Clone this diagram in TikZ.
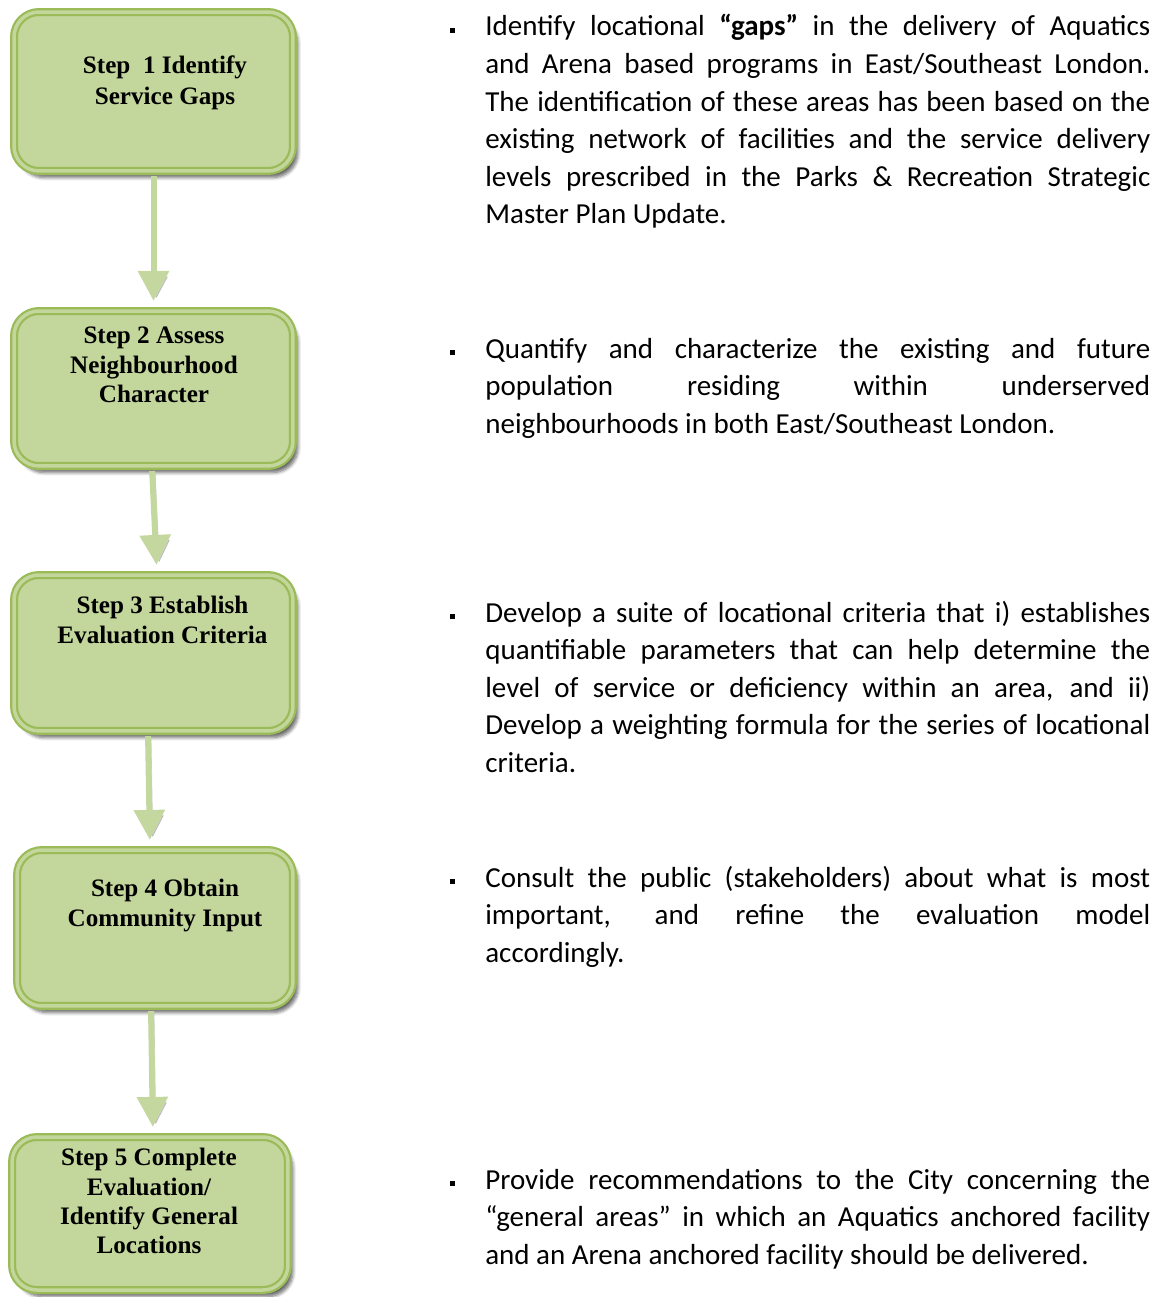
\documentclass[tikz,border=0pt]{standalone}
\usepackage{fontspec}
\setmainfont{Carlito}
\newfontfamily\boxfont{Liberation Serif}
\usetikzlibrary{positioning,arrows.meta,shadows.blur}
\definecolor{boxfill}{HTML}{C3D69B}
\definecolor{boxline}{HTML}{9BBB59}
\definecolor{flowgreen}{HTML}{C4D79E}
% small square bullet hung left of the paragraph
\newcommand{\sqbullet}{\llap{\rule[0.06cm]{0.1cm}{0.1cm}\hspace{0.6cm}}}

\begin{document}
\begin{tikzpicture}[x=0.02cm,y=-0.02cm,
      stepbox/.style={draw=boxline,line width=0.045cm,double=boxfill,double distance=0.07cm,fill=boxfill,rounded corners=0.5cm,minimum width=5.58cm,minimum height=3.12cm,
        blur shadow={shadow xshift=0.1cm,shadow yshift=-0.13cm,shadow blur steps=6,shadow opacity=60}},
      steptext/.style={align=center,inner sep=0pt,font=\boxfont\bfseries\fontsize{14.3}{16.7}\selectfont},
      flow/.style={draw=flowgreen,line width=0.12cm,-{Triangle[width=0.6cm,length=0.6cm]},shorten <=0.08cm,shorten >=0.18cm,
        preaction={draw=black,opacity=0.18,transform canvas={shift={(0.06cm,-0.06cm)}}}},
      para/.style={anchor=base west,inner sep=0pt,text width=13.3cm,align=justify,font=\fontsize{16.5}{21.4}\selectfont}]
    \useasboundingbox (0,0) rectangle (1158,1297);

    % the five steps
    \node[stepbox,minimum height=3.18cm] (s1) at (153.5,91.5) {};
    \node[stepbox,minimum height=3.1cm] (s2) at (153.5,388.5) {};
    \node[stepbox] (s3) at (153.5,653) {};
    \node[stepbox,minimum width=5.52cm] (s4) at (155,928) {};
    \node[stepbox,minimum width=5.52cm,minimum height=3.06cm] (s5) at (150,1213.5) {};

    \node[steptext,anchor=north] (t1) at (165,55) {Step\ \ 1 Identify\\[0.05cm]Service Gaps};
    \node[steptext,anchor=north] (t2) at (154,327) {Step 2 Assess\\Neighbourhood\\Character};
    \node[steptext,anchor=north] (t3) at (162.5,596) {Step 3 Establish\\Evaluation Criteria};
    \node[steptext,anchor=north] (t4) at (165,879) {Step 4 Obtain\\Community Input};
    \node[steptext,anchor=north] (t5) at (149,1148) {Step 5 Complete\\Evaluation/\\Identify General\\Locations};

    \draw[flow] (s1.south) -- (s2.north);
    \draw[flow] ([xshift=-0.03cm]s2.south) -- ([xshift=0.07cm]s3.north);
    \draw[flow] ([xshift=-0.11cm]s3.south) -- ([xshift=-0.1cm]s4.north);
    \draw[flow] ([xshift=-0.08cm]s4.south) -- ([xshift=0.06cm]s5.north);

    % descriptions
    \node[para] (p1) at (485,36) {\sqbullet Identify locational \textbf{“gaps”} in the delivery of Aquatics\linebreak and Arena based programs in East/Southeast London.\linebreak The identification of these areas has been based on the\linebreak existing network of facilities and the service delivery\linebreak levels prescribed in the Parks \& Recreation Strategic\linebreak Master Plan Update.};
    \node[para] (p2) at (485,358) {\sqbullet Quantify and characterize the existing and future\linebreak population residing within underserved\linebreak neighbourhoods in both East/Southeast London.};
    \node[para] (p3) at (485,622) {\sqbullet Develop a suite of locational criteria that i) establishes\linebreak quantifiable parameters that can help determine the\linebreak level of service or deficiency within an area, and ii)\linebreak Develop a weighting formula for the series of locational\linebreak criteria.};
    \node[para] (p4) at (485,887) {\sqbullet Consult the public (stakeholders) about what is most\linebreak important, and refine the evaluation model\linebreak accordingly.};
    \node[para] (p5) at (485,1189) {\sqbullet Provide recommendations to the City concerning the\linebreak “general areas” in which an Aquatics anchored facility\linebreak and an Arena anchored facility should be delivered.};
  \end{tikzpicture}
\end{document}
